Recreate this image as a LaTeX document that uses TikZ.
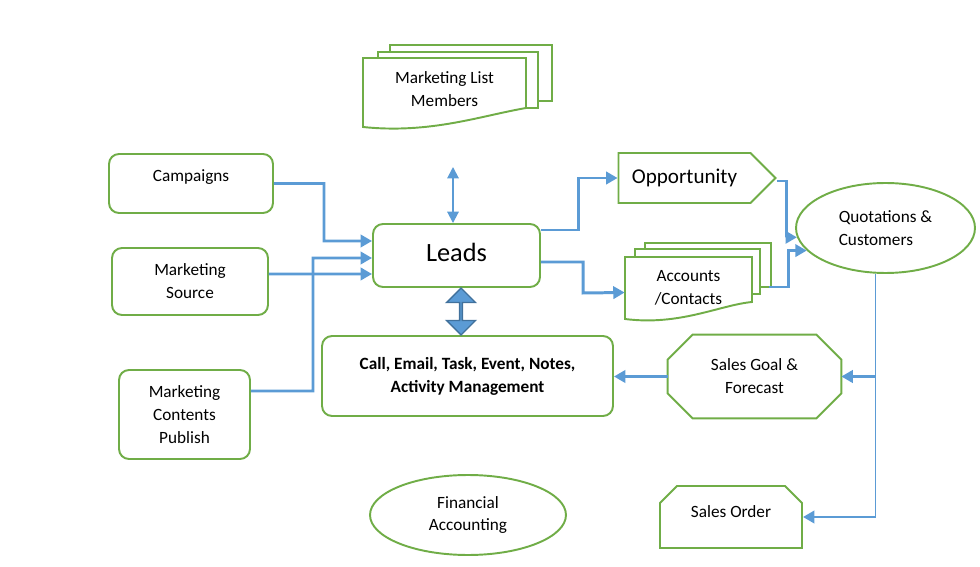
\documentclass[tikz,border=0pt]{standalone}
\usepackage{fontspec}
\setmainfont{Carlito}
\usepackage{tikz}
\usetikzlibrary{arrows.meta,shapes.geometric,shapes.misc,shapes.symbols,shapes.arrows}
\definecolor{leafgreen}{RGB}{112,173,71}
\definecolor{flowblue}{RGB}{91,155,213}
\definecolor{edgeblue}{RGB}{65,113,156}

\begin{document}
\begin{tikzpicture}[
    x=0.02cm, y=-0.02cm,
    txt/.style={font=\fontsize{9.8}{13}\selectfont, align=center},
    box/.style={txt, draw=leafgreen, line width=1.1pt, fill=white, rounded corners=0.2cm, inner sep=0pt},
    sheet/.style={draw=leafgreen, line width=1.1pt, fill=white},
    outline/.style={draw=leafgreen, line width=1.1pt},
    flow/.style={draw=flowblue, line width=1.7pt, -{Triangle[length=6.5pt,width=7pt]}},
    thinflow/.style={draw=flowblue, line width=1.1pt, {Triangle[length=6.5pt,width=6.5pt]}-{Triangle[length=6.5pt,width=6.5pt]}},
    thinline/.style={draw=flowblue, line width=0.6pt}
]
\useasboundingbox (0,0) rectangle (980,567);

\draw[sheet] (390,45) rectangle (552,101);
\draw[sheet] (378,52) rectangle (538,108);
\draw[sheet] (363,58) -- (526,58) -- (526,108) .. controls (480,116) and (430,134) .. (363,127) -- cycle;
\node[txt, minimum width=3.26cm, minimum height=1.4cm] (members) at (444.5,89) {Marketing List\\Members};

\draw[sheet] (645,243) rectangle (771,287);
\draw[sheet] (635,249) rectangle (760,294);
\draw[sheet] (625,257) -- (752,257) -- (752,302) .. controls (720,305) and (680,326) .. (625,319) -- cycle;
\node[txt, minimum width=2.54cm, minimum height=1.26cm] (accts) at (688.5,288) {Accounts\\/Contacts};
\coordinate (acctsback) at (769,287);

\node[box, minimum width=3.28cm, minimum height=1.18cm] (campaigns) at (191,183.5) {\raisebox{0.31cm}{Campaigns}};
\node[box, minimum width=3.12cm, minimum height=1.34cm] (source) at (190,281.5) {Marketing\\Source};
\node[box, minimum width=2.62cm, minimum height=1.78cm] (contents) at (184.5,414.5) {Marketing\\Contents\\Publish};
\node[box, minimum width=3.34cm, minimum height=1.26cm, font=\fontsize{15}{18}\selectfont] (leads) at (456.5,255.5) {\raisebox{0.14cm}{Leads}};
\node[box, minimum width=5.82cm, minimum height=1.6cm, font=\fontsize{9.8}{13}\selectfont\bfseries] (activity) at (467.5,376) {Call, Email, Task, Event, Notes,\\Activity Management};

\node[txt, draw=leafgreen, line width=1.1pt, signal, signal to=east, signal pointer angle=90,
      minimum width=3.14cm, minimum height=1cm, inner sep=0pt, font=\fontsize{12}{14}\selectfont] (opp) at (684.5,178) {Opportunity};
\node[txt, draw=leafgreen, line width=1.1pt, ellipse, minimum width=3.58cm, minimum height=1.8cm, inner sep=0pt, align=left] (quot) at (885.5,228) {Quotations \&\\Customers};
\node[txt, minimum width=3.46cm, minimum height=1.66cm, inner sep=0pt] (goal) at (754.5,376.5) {Sales Goal \&\\Forecast};
\draw[outline] ([xshift=0.5cm]goal.north west) -- ([xshift=-0.5cm]goal.north east) -- ([yshift=-0.5cm]goal.north east)
  -- ([yshift=0.5cm]goal.south east) -- ([xshift=-0.5cm]goal.south east) -- ([xshift=0.5cm]goal.south west)
  -- ([yshift=0.5cm]goal.south west) -- ([yshift=-0.5cm]goal.north west) -- cycle;
\node[txt, draw=leafgreen, line width=1.1pt, chamfered rectangle, chamfered rectangle sep=0.17cm,
      chamfered rectangle corners={north east,north west}, minimum width=2.84cm, minimum height=1.24cm, inner sep=0pt] (order) at (731,517) {\raisebox{0.2cm}{Sales Order}};
\node[txt, draw=leafgreen, line width=1.1pt, ellipse, minimum width=3.92cm, minimum height=1.6cm, inner sep=0pt] (fin) at (468,515) {Financial\\Accounting};

\node[double arrow, rotate=90, draw=edgeblue, fill=flowblue, line width=0.8pt, inner sep=0pt,
      minimum width=0.58cm, minimum height=0.94cm, double arrow head extend=0.13cm, double arrow tip angle=90] (fat) at (461,311.5) {};

\coordinate (mltop) at (453,167);
\draw[thinflow] (mltop) -- ([xshift=-0.07cm]leads.north);

\draw[flow] (campaigns.east) -| (324,241) -- ([yshift=0.29cm]leads.west);
\draw[flow] ([yshift=0.15cm]source.east) -- ([yshift=-0.37cm]leads.west);
\draw[flow] ([yshift=0.47cm]contents.east) -| (313,258) -- ([yshift=-0.05cm]leads.west);
\draw[flow] ([yshift=0.51cm]leads.east) -| (578,178) -- (opp.west);
\draw[flow] ([yshift=-0.13cm]leads.east) -| (583,293) -- ([yshift=-0.09cm]accts.west);
\draw[flow] ([yshift=-0.06cm]opp.east) -| ([xshift=-0.2cm]quot.186) -- (quot.186);
\draw[flow] (acctsback) -| ([xshift=-0.36cm]quot.196) -- (quot.196);
\draw[thinline] (quot.258) -- (quot.258 |- order.east);
\draw[flow] (quot.258 |- goal.east) -- (goal.east);
\draw[flow] (quot.258 |- order.east) -- (order.east);
\draw[flow] (goal.west) -- (goal.west -| activity.east);
\end{tikzpicture}
\end{document}
